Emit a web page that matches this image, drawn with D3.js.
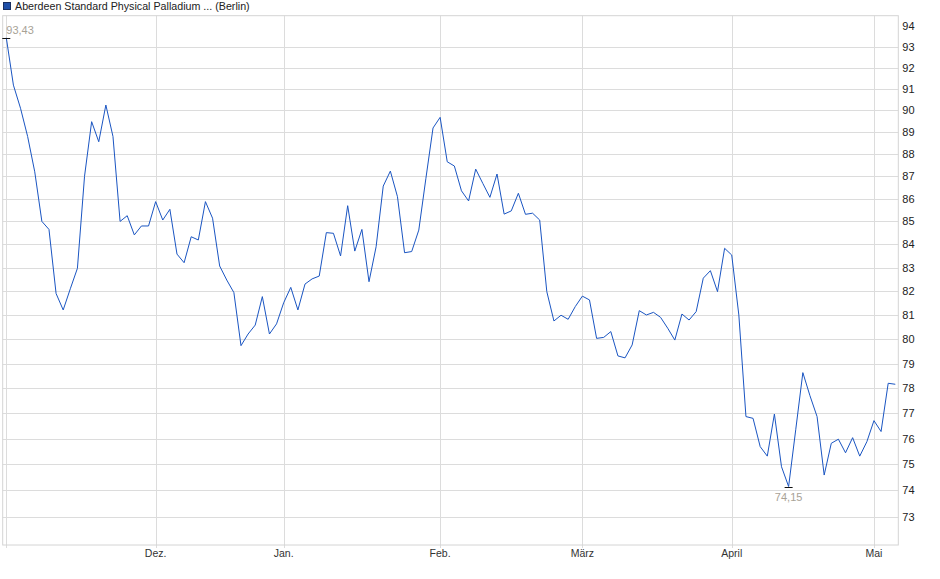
<!DOCTYPE html>
<html>
<head>
<meta charset="utf-8">
<script src="https://cdn.jsdelivr.net/npm/d3@7"></script>
<style>
  body { margin: 0; background: #fff; }
  text { font-family: "Liberation Sans", Arial, sans-serif; }
</style>
</head>
<body>
<script>
const w = 940;
const h = 579;

const title = "Aberdeen Standard Physical Palladium ... (Berlin)";

// closing prices, one per trading day (Nov - May)
const prices = [
  93.43, 91.18, 90.1, 88.8, 87.2, 85.0, 84.65, 81.9, 81.21, 82.1,
  82.97, 87.0, 89.48, 88.56, 90.25, 88.8, 85.0, 85.25, 84.41, 84.8,
  84.8, 85.87, 85.06, 85.53, 83.58, 83.21, 84.33, 84.19, 85.87, 85.14,
  83.07, 82.47, 81.94, 79.73, 80.21, 80.58, 81.77, 80.21, 80.63, 81.51,
  82.16, 81.21, 82.3, 82.52, 82.64, 84.51, 84.48, 83.5, 85.69, 83.71,
  84.65, 82.4, 83.9, 86.56, 87.23, 86.09, 83.64, 83.69, 84.62, 86.91,
  89.19, 89.68, 87.65, 87.46, 86.35, 85.9, 87.32, 86.68, 86.06, 87.1,
  85.32, 85.46, 86.24, 85.31, 85.36, 85.06, 81.98, 80.75, 80.99, 80.82,
  81.35, 81.79, 81.63, 80.03, 80.07, 80.31, 79.31, 79.23, 79.76, 81.18,
  81.0, 81.11, 80.9, 80.45, 79.96, 81.04, 80.79, 81.14, 82.55, 82.87,
  81.98, 83.83, 83.54, 81.0, 76.87, 76.8, 75.69, 75.32, 76.97, 74.91,
  74.15, 76.35, 78.63, 77.7, 76.87, 74.59, 75.82, 75.98, 75.45, 76.04,
  75.32, 75.88, 76.71, 76.28, 78.2, 78.16
];

// index of first trading day of each month
const monthStarts = [0, 21, 39, 61, 81, 102, 122];
const monthLabels = ["Nov.", "Dez.", "Jan.", "Feb.", "März", "April", "Mai"];

const yTicks = [73, 74, 75, 76, 77, 78, 79, 80, 81, 82, 83, 84, 85, 86, 87, 88, 89, 90, 91, 92, 93, 94];

const box = { left: 2.7, right: 898.3, top: 15.7, bottom: 545 };

const de = d3.formatLocale({ decimal: ",", thousands: ".", grouping: [3], currency: ["", " €"] });
const fmt = de.format(".2f");

const svg = d3.select("body")
  .append("svg")
  .attr("width", w)
  .attr("height", h);

const xScale = d3.scaleLinear()
  .domain([0, prices.length - 1])
  .range([6.3, 895.3]);

const yScale = d3.scaleLog()
  .domain([71.95, 94.5])
  .range([box.bottom, box.top]);

// horizontal grid (no line for the top label)
svg.append("g")
  .selectAll("line")
  .data(yTicks.filter(d => d < 94))
  .enter()
  .append("line")
  .attr("x1", box.left)
  .attr("x2", box.right)
  .attr("y1", d => Math.round(yScale(d)) + 0.5)
  .attr("y2", d => Math.round(yScale(d)) + 0.5)
  .attr("stroke", "#dcdcdc");

// vertical grid with small ticks below the frame
svg.append("g")
  .selectAll("line")
  .data(monthStarts)
  .enter()
  .append("line")
  .attr("x1", d => Math.round(xScale(d)) + 0.5)
  .attr("x2", d => Math.round(xScale(d)) + 0.5)
  .attr("y1", box.top)
  .attr("y2", box.bottom + 3)
  .attr("stroke", "#dcdcdc");

// frame
svg.append("rect")
  .attr("x", box.left)
  .attr("y", box.top)
  .attr("width", box.right - box.left)
  .attr("height", box.bottom - box.top)
  .attr("fill", "none")
  .attr("stroke", "#d4d4d4");

// y labels on the right
const yAxis = d3.axisRight(yScale)
  .tickValues(yTicks)
  .tickSize(0)
  .tickPadding(4)
  .tickFormat(d3.format("d"));

svg.append("g")
  .attr("transform", "translate(" + box.right + ",0)")
  .call(yAxis)
  .call(g => g.select(".domain").remove())
  .selectAll("text")
  .style("font-size", "11px")
  .attr("fill", "#222");

// month labels (first one sits on the edge and is not shown)
svg.append("g")
  .selectAll("text")
  .data(monthStarts.slice(1))
  .enter()
  .append("text")
  .attr("x", d => xScale(d))
  .attr("y", 557)
  .attr("text-anchor", "middle")
  .style("font-size", "10.5px")
  .attr("fill", "#333")
  .text((d, i) => monthLabels[i + 1]);

// price line
const line = d3.line()
  .x((d, i) => xScale(i))
  .y(d => yScale(d));

svg.append("path")
  .datum(prices)
  .attr("d", line)
  .attr("fill", "none")
  .attr("stroke", "#1a55c2")
  .attr("stroke-width", 1);

// high / low markers
const hi = d3.maxIndex(prices);
const lo = d3.minIndex(prices);

[hi, lo].forEach(function (i) {
  svg.append("line")
    .attr("x1", xScale(i) - 4)
    .attr("x2", xScale(i) + 4)
    .attr("y1", Math.round(yScale(prices[i])) + 0.5)
    .attr("y2", Math.round(yScale(prices[i])) + 0.5)
    .attr("stroke", "#111");
});

svg.append("text")
  .attr("x", xScale(hi))
  .attr("y", yScale(prices[hi]) - 4)
  .style("font-size", "11px")
  .attr("fill", "#a8a296")
  .text(fmt(prices[hi]));

svg.append("text")
  .attr("x", xScale(lo))
  .attr("y", yScale(prices[lo]) + 14)
  .attr("text-anchor", "middle")
  .style("font-size", "11px")
  .attr("fill", "#a8a296")
  .text(fmt(prices[lo]));

// legend
svg.append("rect")
  .attr("x", 3.5)
  .attr("y", 2.5)
  .attr("width", 7)
  .attr("height", 7)
  .attr("fill", "#1f4fa8")
  .attr("stroke", "#1a2f60");

svg.append("text")
  .attr("x", 15)
  .attr("y", 10)
  .style("font-size", "10.7px")
  .attr("fill", "#222")
  .text(title);
</script>
</body>
</html>
